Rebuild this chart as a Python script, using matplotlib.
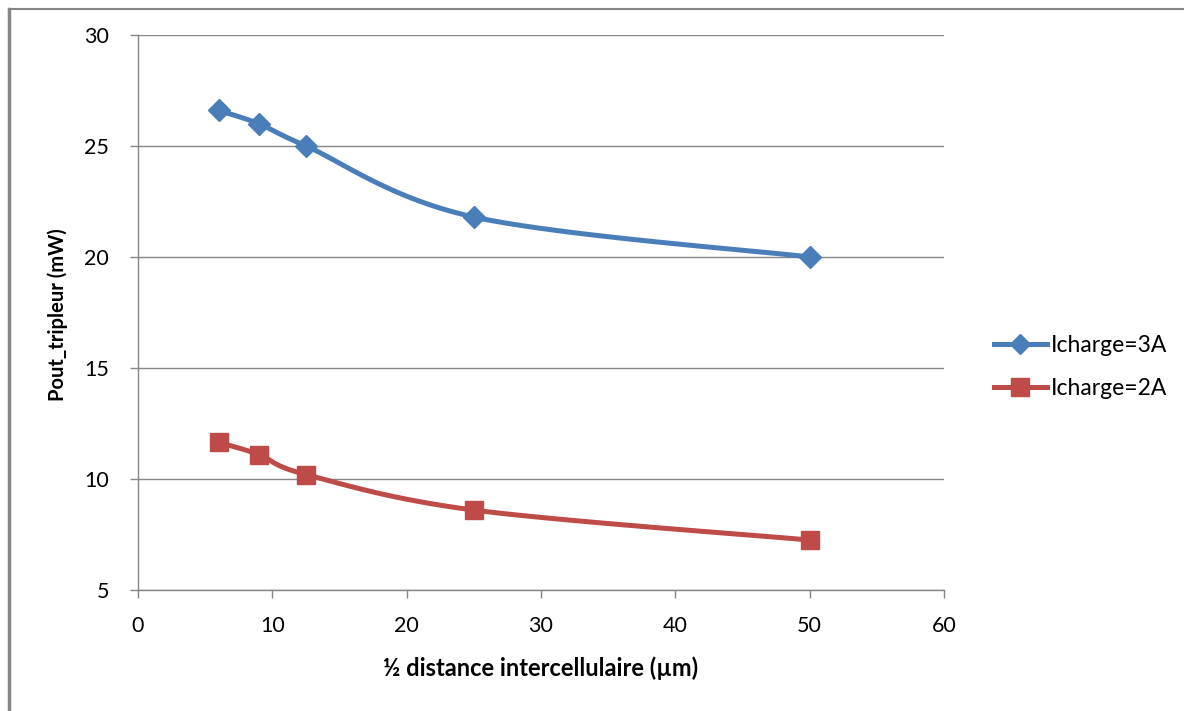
import numpy as np
import matplotlib.pyplot as plt
from matplotlib.lines import Line2D

# data
distance = [6, 9, 12.5, 25, 50]
pout_3A = [26.6, 26.0, 25.0, 21.8, 20.0]
pout_2A = [11.65, 11.1, 10.2, 8.6, 7.25]
series_names = ['Icharge=3A', 'Icharge=2A']

blue = '#4A7EBB'
red = '#BE4B48'
grid_col = '#868686'


def smooth(x, y, xr, yr, n=30):
    # Excel-like smoothed line: Catmull-Rom bezier in normalised space
    x = np.asarray(x, float) / xr
    y = np.asarray(y, float) / yr
    px, py = [], []
    for i in range(len(x) - 1):
        x0, y0 = (x[i - 1], y[i - 1]) if i > 0 else (x[i], y[i])
        x3, y3 = (x[i + 2], y[i + 2]) if i + 2 < len(x) else (x[i + 1], y[i + 1])
        x1, y1, x2, y2 = x[i], y[i], x[i + 1], y[i + 1]
        c1 = (x1 + (x2 - x0) / 6, y1 + (y2 - y0) / 6)
        c2 = (x2 - (x3 - x1) / 6, y2 - (y3 - y1) / 6)
        t = np.linspace(0, 1, n)
        bx = (1-t)**3*x1 + 3*(1-t)**2*t*c1[0] + 3*(1-t)*t**2*c2[0] + t**3*x2
        by = (1-t)**3*y1 + 3*(1-t)**2*t*c1[1] + 3*(1-t)*t**2*c2[1] + t**3*y2
        px.extend(bx)
        py.extend(by)
    return np.array(px) * xr, np.array(py) * yr


plt.rcParams['font.family'] = ['Lato', 'DejaVu Sans']

fig = plt.figure(figsize=(11.84, 7.11), dpi=100)
ax = fig.add_axes([0.1166, 0.1702, 0.6807, 0.7806])

xr, yr = 60 / 806, 25 / 555
sx, sy = smooth(distance, pout_3A, xr, yr)
ax.plot(sx, sy, color=blue, lw=3.6, solid_capstyle='round', zorder=3)
ax.plot(distance, pout_3A, ls='none', marker='D', ms=11, color=blue, zorder=4)
sx, sy = smooth(distance, pout_2A, xr, yr)
ax.plot(sx, sy, color=red, lw=3.6, solid_capstyle='round', zorder=3)
ax.plot(distance, pout_2A, ls='none', marker='s', ms=13, color=red, zorder=4)

ax.set_xlim(0, 60)
ax.set_ylim(5, 30)
ax.set_xticks(range(0, 61, 10))
ax.set_yticks(range(5, 31, 5))
ax.grid(axis='y', color=grid_col, lw=1)
ax.set_axisbelow(True)
for s in ['top', 'right']:
    ax.spines[s].set_visible(False)
for s in ['left', 'bottom']:
    ax.spines[s].set_color(grid_col)
    ax.spines[s].set_linewidth(1)
ax.tick_params(axis='both', colors=grid_col, length=6, width=1, labelcolor='black',
               labelsize=15.5)
ax.tick_params(axis='y', pad=15)
ax.tick_params(axis='x', pad=13)
ax.set_xlabel('½ distance intercellulaire (µm)', fontsize=17, fontweight='bold')
ax.xaxis.set_label_coords(0.499, -0.12)
ax.set_ylabel('Pout_tripleur (mW)', fontsize=14.5, fontweight='bold')
ax.yaxis.set_label_coords(-0.087, 0.497)

handles = [
    Line2D([], [], color=blue, lw=3.6, marker='D', ms=10),
    Line2D([], [], color=red, lw=3.6, marker='s', ms=13),
]
fig.legend(handles, series_names, loc='upper left', bbox_to_anchor=(0.822, 0.558),
           frameon=False, fontsize=16.5, handlelength=2.3, handletextpad=0.2,
           labelspacing=0.95)

# outer frame lines (left and top)
fig.add_artist(Line2D([0.0078, 0.0078], [0, 0.987], transform=fig.transFigure,
                      color=grid_col, lw=2.5))
fig.add_artist(Line2D([0.0078, 1], [0.987, 0.987], transform=fig.transFigure,
                      color=grid_col, lw=1.5))

fig.savefig('out.png', dpi=100)
